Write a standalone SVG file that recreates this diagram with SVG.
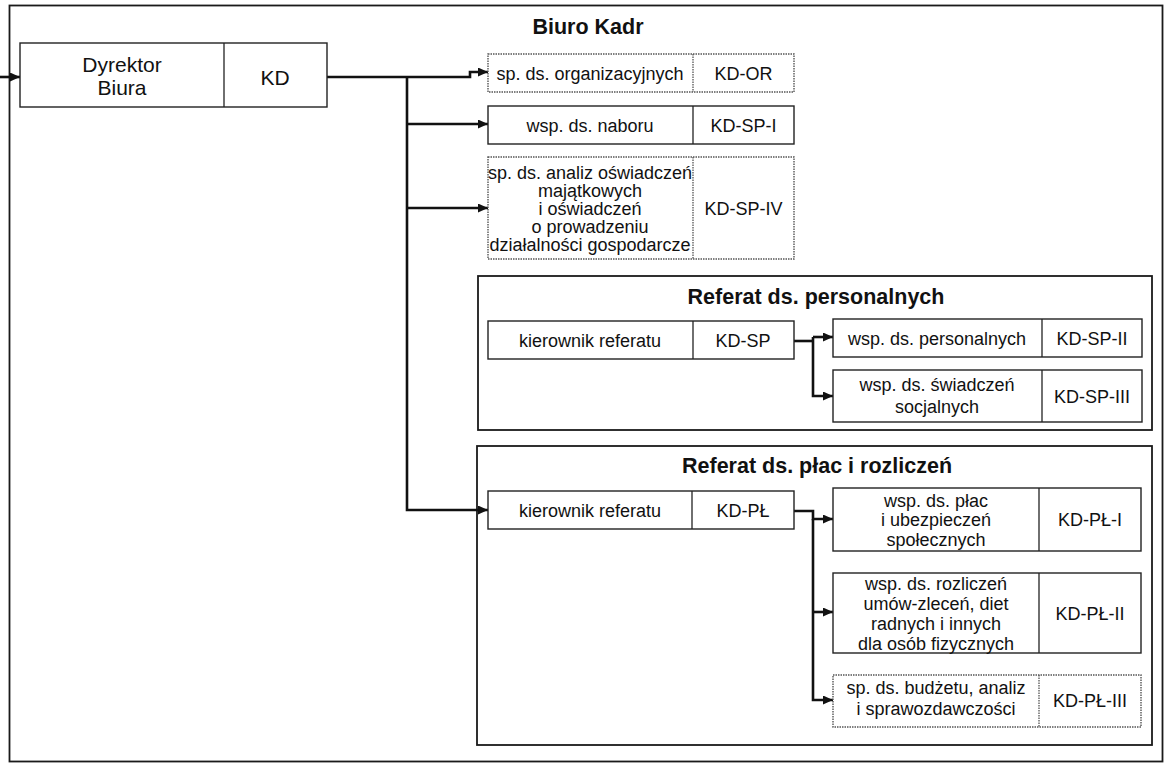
<svg xmlns="http://www.w3.org/2000/svg" width="1168" height="765" viewBox="0 0 1168 765">
<style>
text{font-family:"Liberation Sans",Arial,sans-serif;fill:#111;text-anchor:middle}
.t{font-size:18px}
.big{font-size:21px}
.title{font-size:21.5px;font-weight:bold}
.box{fill:#fff;stroke:#222;stroke-width:1.4}
.sp{fill:#fff;stroke:#555;stroke-width:1.4;stroke-dasharray:1.5 1}
.div{stroke:#222;stroke-width:1.3}
.dsp{stroke:#555;stroke-width:1.3;stroke-dasharray:1.5 1}
.frame{fill:none;stroke:#1a1a1a;stroke-width:1.8}
.c{fill:none;stroke:#111;stroke-width:2.6}
</style>
<defs>
<marker id="ah" markerUnits="userSpaceOnUse" markerWidth="10" markerHeight="9" refX="10" refY="4.5" orient="auto">
<path d="M0,0 L10,4.5 L0,9 z" fill="#111"/>
</marker>
</defs>
<rect width="1168" height="765" fill="#fff"/>
<g id="frame-biuro">
<rect class="frame" x="9.5" y="5.5" width="1153" height="756"/>
<text class="title" x="588" y="34">Biuro Kadr</text>
</g>
<g id="frame-personalnych">
<rect class="frame" x="478" y="276" width="674" height="154"/>
<text class="title" x="816" y="304">Referat ds. personalnych</text>
</g>
<g id="frame-place">
<rect class="frame" x="477" y="446" width="675" height="299"/>
<text class="title" x="817" y="473">Referat ds. płac i rozliczeń</text>
</g>
<g id="connectors">
<path class="c" d="M0,77 H20" marker-end="url(#ah)"/>
<path class="c" d="M327,77 H470 V72 H488" marker-end="url(#ah)"/>
<path class="c" d="M407,77 V510 H488" marker-end="url(#ah)"/>
<path class="c" d="M407,124 H488" marker-end="url(#ah)"/>
<path class="c" d="M407,208 H488" marker-end="url(#ah)"/>
<path class="c" d="M794,341 H813"/>
<path class="c" d="M813,337 H833" marker-end="url(#ah)"/>
<path class="c" d="M813,337 V396 H833" marker-end="url(#ah)"/>
<path class="c" d="M794,511 H813 V519 H833" marker-end="url(#ah)"/>
<path class="c" d="M813,519 V700 H833" marker-end="url(#ah)"/>
<path class="c" d="M813,612 H833" marker-end="url(#ah)"/>
</g>
<g id="node-kd">
<rect class="box" x="20" y="43" width="307" height="64"/>
<line class="div" x1="224" y1="43" x2="224" y2="107"/>
<text class="big" x="122" y="72">Dyrektor</text>
<text class="big" x="122" y="95">Biura</text>
<text class="big" x="275" y="85">KD</text>
</g>
<g id="node-kd-or">
<rect class="sp" x="488" y="54" width="306" height="38"/>
<line class="dsp" x1="693" y1="54" x2="693" y2="92"/>
<text class="t" x="590" y="80">sp. ds. organizacyjnych</text>
<text class="t" x="743.5" y="80">KD-OR</text>
</g>
<g id="node-kd-sp-i">
<rect class="box" x="488" y="106" width="306" height="38"/>
<line class="div" x1="693" y1="106" x2="693" y2="144"/>
<text class="t" x="590" y="131.5">wsp. ds. naboru</text>
<text class="t" x="743.5" y="131.5">KD-SP-I</text>
</g>
<g id="node-kd-sp-iv">
<rect class="sp" x="488" y="157" width="306" height="102"/>
<line class="dsp" x1="693" y1="157" x2="693" y2="259"/>
<text class="t" x="590" y="178.5">sp. ds. analiz oświadczeń</text>
<text class="t" x="590" y="196.5">majątkowych</text>
<text class="t" x="590" y="214.5">i oświadczeń</text>
<text class="t" x="590" y="232.5">o prowadzeniu</text>
<text class="t" x="590" y="250.5">działalności gospodarcze</text>
<text class="t" x="743.5" y="214.5">KD-SP-IV</text>
</g>
<g id="node-kd-sp">
<rect class="box" x="488" y="321" width="306" height="38"/>
<line class="div" x1="693" y1="321" x2="693" y2="359"/>
<text class="t" x="590" y="346.5">kierownik referatu</text>
<text class="t" x="743" y="346.5">KD-SP</text>
</g>
<g id="node-kd-sp-ii">
<rect class="box" x="833" y="319" width="309" height="38"/>
<line class="div" x1="1042" y1="319" x2="1042" y2="357"/>
<text class="t" x="937" y="344.5">wsp. ds. personalnych</text>
<text class="t" x="1092" y="344.5">KD-SP-II</text>
</g>
<g id="node-kd-sp-iii">
<rect class="box" x="833" y="370" width="309" height="52"/>
<line class="div" x1="1042" y1="370" x2="1042" y2="422"/>
<text class="t" x="937" y="391">wsp. ds. świadczeń</text>
<text class="t" x="937" y="413">socjalnych</text>
<text class="t" x="1092" y="402.5">KD-SP-III</text>
</g>
<g id="node-kd-pl">
<rect class="box" x="488" y="491" width="306" height="38"/>
<line class="div" x1="692" y1="491" x2="692" y2="529"/>
<text class="t" x="590" y="516.5">kierownik referatu</text>
<text class="t" x="743" y="516.5">KD-PŁ</text>
</g>
<g id="node-kd-pl-i">
<rect class="box" x="833" y="488" width="308" height="63"/>
<line class="div" x1="1039" y1="488" x2="1039" y2="551"/>
<text class="t" x="936" y="506.5">wsp. ds. płac</text>
<text class="t" x="936" y="526">i ubezpieczeń</text>
<text class="t" x="936" y="545.5">społecznych</text>
<text class="t" x="1090" y="526">KD-PŁ-I</text>
</g>
<g id="node-kd-pl-ii">
<rect class="box" x="833" y="573" width="308" height="80"/>
<line class="div" x1="1039" y1="573" x2="1039" y2="653"/>
<text class="t" x="936" y="589.5">wsp. ds. rozliczeń</text>
<text class="t" x="936" y="609.5">umów-zleceń, diet</text>
<text class="t" x="936" y="629.5">radnych i innych</text>
<text class="t" x="936" y="649.5">dla osób fizycznych</text>
<text class="t" x="1090" y="619.5">KD-PŁ-II</text>
</g>
<g id="node-kd-pl-iii">
<rect class="sp" x="833" y="675" width="308" height="52"/>
<line class="dsp" x1="1039" y1="675" x2="1039" y2="727"/>
<text class="t" x="936" y="694">sp. ds. budżetu, analiz</text>
<text class="t" x="936" y="715">i sprawozdawczości</text>
<text class="t" x="1090" y="707">KD-PŁ-III</text>
</g>
</svg>
